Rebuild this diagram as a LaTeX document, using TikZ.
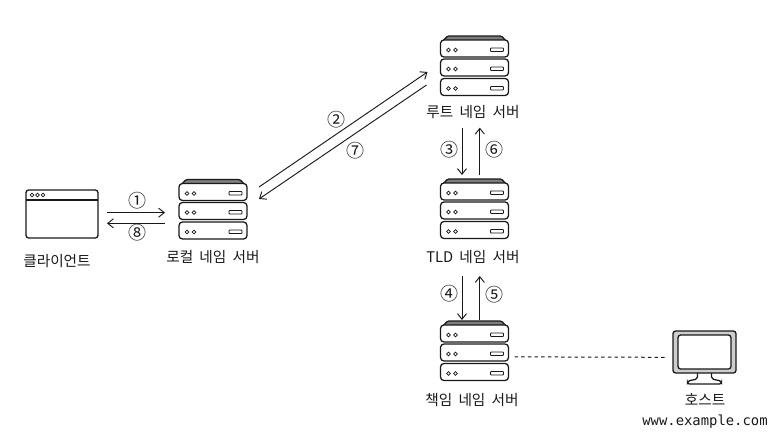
\documentclass[tikz,border=0pt]{standalone}
\usepackage{fontspec}
\setmainfont[WordSpace=1.9]{Noto Sans CJK KR}
\newfontfamily\urlfont{DejaVu Sans Mono}
\usetikzlibrary{arrows.meta}
\definecolor{inkc}{RGB}{25,25,25}
\definecolor{topfill}{RGB}{125,125,125}
\definecolor{framefill}{RGB}{205,205,205}
\tikzset{
  pics/server/.style={code={
    \node[hitbox, minimum width=51pt, minimum height=45.75pt] (-box) at (0,0) {};
    \draw[part, fill=topfill, rounded corners=1pt] (-33,-24) -- (-27,-30.5) -- (27,-30.5) -- (33,-24) -- cycle;
    \foreach \cy in {-18,1,20.5} {
      \draw[part, fill=white, rounded corners=2.6pt] (-34,\cy-8.5) rectangle (34,\cy+8.5);
      \draw[detail] (-26,\cy+1.5) circle (1.9) (-19,\cy+1.5) circle (1.9);
      \draw[detail, rounded corners=0.6pt] (16,\cy-0.5) rectangle (29,\cy+3);
    }
  }},
  pics/browser/.style={code={
    \node[hitbox, minimum width=54pt, minimum height=36pt] (-box) at (0,0) {};
    \draw[part, rounded corners=2pt] (-36,-24) rectangle (36,24);
    \draw[part] (-36,-14) -- (36,-14);
    \foreach \dx in {-30,-24.5,-19} {
      \draw[detail] (\dx,-19) circle (1.9);
    }
  }},
  pics/monitor/.style={code={
    \node[hitbox, minimum width=47.25pt, minimum height=31.5pt] (-box) at (0,0) {};
    \draw[part, rounded corners=1.5pt] (-7,20) -- (-7,27) -- (-17,29) -- (-17,32) -- (17,32) -- (17,29) -- (7,27) -- (7,20);
    \draw[part, fill=framefill, rounded corners=2pt] (-31.5,-21) rectangle (31.5,21);
    \draw[part, fill=white, rounded corners=2pt] (-26.5,-17) rectangle (26.5,17);
  }},
}
\begin{document}
\begin{tikzpicture}[
  x=0.75pt, y=-0.75pt,
  hitbox/.style={inner sep=0pt, outer sep=0pt},
  part/.style={draw=inkc, line width=0.95pt},
  detail/.style={draw=inkc, line width=0.6pt},
  lbl/.style={font=\fontsize{11}{13}\selectfont, text=inkc, inner sep=0pt},
  num/.style={font=\fontsize{13.5}{15}\selectfont, text=inkc, inner sep=0pt},
  arr/.style={-{Straight Barb[length=1.5mm, width=2.4mm]}, line width=0.7pt, inkc},
  link/.style={line width=0.75pt, inkc, dash pattern=on 2.6pt off 2.4pt},
]
\useasboundingbox (0,0) rectangle (782,444);

% machines
\pic (client) at (62,214) {browser};
\pic (local) at (213,210) {server};
\pic (root) at (474.5,66.5) {server};
\pic (tld) at (474.5,209.5) {server};
\pic (auth) at (474.5,351.5) {server};
\pic (host) at (704.5,352) {monitor};

% labels
\node[lbl] (clientlbl) at (57,261) {클라이언트};
\node[lbl] (locallbl) at (213,257) {로컬 네임 서버};
\node[lbl] (rootlbl) at (473,112) {루트 네임 서버};
\node[lbl] (tldlbl) at (473,257) {TLD 네임 서버};
\node[lbl] (authlbl) at (472,400) {책임 네임 서버};
\node[lbl] (hostlbl) at (705,400) {호스트};
\node[font=\urlfont\fontsize{10.4}{12}\selectfont, text=inkc, inner sep=0pt] (hosturl) at (705,422) {www.example.com};

% client <-> local
\draw[arr] ([xshift=6.75pt,yshift=1pt]client-box.east) -- ([xshift=-10.5pt,yshift=-2pt]local-box.west);
\draw[arr] ([xshift=-10.5pt,yshift=-10pt]local-box.west) -- ([xshift=6.75pt,yshift=-7pt]client-box.east);
\node[num] (n1) at (137,201) {①};
\node[num] (n8) at (137,233) {⑧};

% local <-> root
\draw[arr] ([xshift=9pt,yshift=17.25pt]local-box.east) -- ([xshift=-9.75pt,yshift=-4.1pt]root-box.west);
\draw[arr] ([xshift=-10.5pt,yshift=-13.9pt]root-box.west) -- ([xshift=9pt,yshift=8.25pt]local-box.east);
\node[num] (n2) at (336,120) {②};
\node[num] (n7) at (355,151) {⑦};

% root <-> tld
\draw[arr, shorten <=23pt, shorten >=3pt] ([xshift=-9.4pt]root-box.south) -- ([xshift=-9.4pt]tld-box.north);
\draw[arr, shorten <=3pt, shorten >=23pt] ([xshift=4pt]tld-box.north) -- ([xshift=4pt]root-box.south);
\node[num] (n3) at (449,150) {③};
\node[num] (n6) at (494,150) {⑥};

% tld <-> auth
\draw[arr, shorten <=27pt, shorten >=0.75pt] ([xshift=-9.4pt]tld-box.south) -- ([xshift=-9.4pt]auth-box.north);
\draw[arr, shorten <=0.75pt, shorten >=27pt] ([xshift=4pt]auth-box.north) -- ([xshift=4pt]tld-box.south);
\node[num] (n4) at (449,294) {④};
\node[num] (n5) at (494,295) {⑤};

% auth to host
\draw[link, shorten <=4.5pt, shorten >=6pt] ([yshift=-4pt]auth-box.east) -- ([yshift=-4pt]host-box.west);
\end{tikzpicture}
\end{document}
